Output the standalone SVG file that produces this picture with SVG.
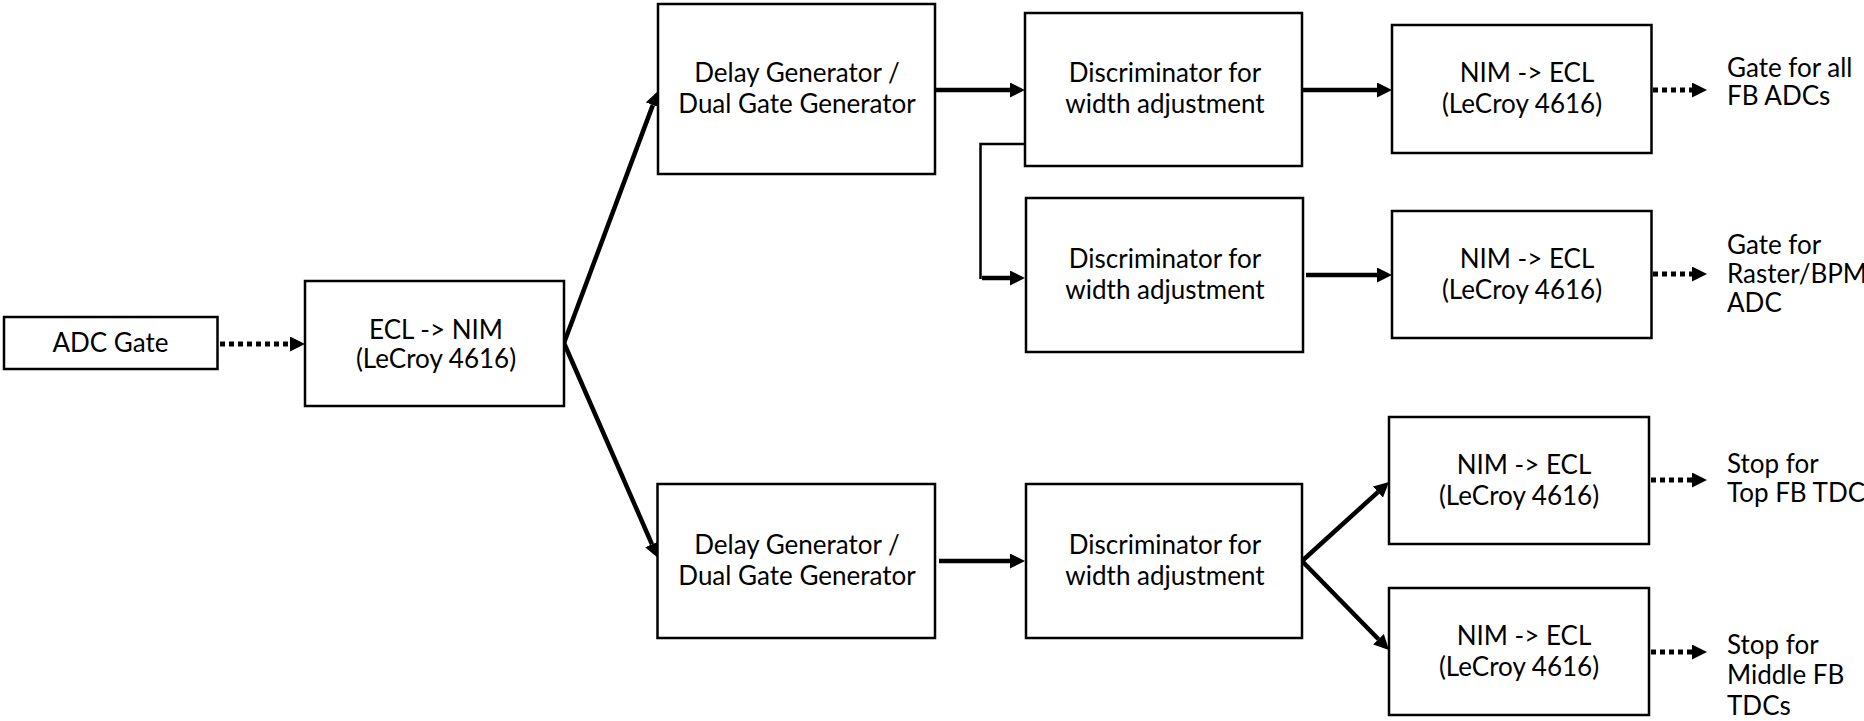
<svg xmlns="http://www.w3.org/2000/svg" width="1864" height="721" viewBox="0 0 1864 721">
  <style>
    .box { fill: #ffffff; stroke: #000000; stroke-width: 2.5; }
    .t { font-family: Lato, "Liberation Sans", Arial, sans-serif; font-size: 26px; fill: #000000; text-anchor: middle; }
    .lbl { font-family: Lato, "Liberation Sans", Arial, sans-serif; font-size: 26px; fill: #000000; }
    .solid { stroke: #000000; stroke-width: 4.5; fill: none; marker-end: url(#ah); }
    .dot { stroke: #000000; stroke-width: 5; fill: none; stroke-dasharray: 5 4; marker-end: url(#ah); }
    .thin { stroke: #000000; stroke-width: 2.5; fill: none; }
  </style>
  <defs>
    <marker id="ah" viewBox="0 0 15 15" refX="0" refY="7.5" markerWidth="15" markerHeight="15" markerUnits="userSpaceOnUse" orient="auto">
      <path d="M0,0 L15,7.5 L0,15 z" fill="#000000"/>
    </marker>
  </defs>
  <rect width="1864" height="721" fill="#ffffff"/>

  <g id="connectors">
    <line class="dot" x1="220" y1="344" x2="290" y2="344"/>
    <line class="solid" x1="564" y1="343" x2="652.8" y2="105.1"/>
    <line class="solid" x1="564" y1="343" x2="652" y2="544.3"/>
    <line class="solid" x1="935" y1="90" x2="1010" y2="90"/>
    <line class="solid" x1="1302" y1="90" x2="1377" y2="90"/>
    <path class="thin" d="M1025,144 H980.5 V279"/>
    <line class="solid" x1="982" y1="278" x2="1010" y2="278"/>
    <line class="solid" x1="1306" y1="275" x2="1377" y2="275"/>
    <line class="dot" x1="1653" y1="90" x2="1692" y2="90"/>
    <line class="dot" x1="1653" y1="274" x2="1692" y2="274"/>
    <line class="solid" x1="939" y1="561" x2="1010" y2="561"/>
    <line class="solid" x1="1302" y1="561" x2="1377.9" y2="492.1"/>
    <line class="solid" x1="1302" y1="561" x2="1378.5" y2="639.3"/>
    <line class="dot" x1="1651" y1="480" x2="1692" y2="480"/>
    <line class="dot" x1="1651" y1="652" x2="1692" y2="652"/>
  </g>

  <g id="adc-gate">
    <rect class="box" x="4" y="317" width="213.5" height="52"/>
    <text class="t" x="110.5" y="352">ADC Gate</text>
  </g>
  <g id="ecl-nim">
    <rect class="box" x="305" y="281" width="259" height="125"/>
    <text class="t" x="436" y="339">ECL -&gt; NIM</text>
    <text class="t" x="436" y="368">(LeCroy 4616)</text>
  </g>
  <g id="delay-top">
    <rect class="box" x="658" y="4" width="277" height="170"/>
    <text class="t" x="797" y="82">Delay Generator /</text>
    <text class="t" x="797" y="113">Dual Gate Generator</text>
  </g>
  <g id="disc-1">
    <rect class="box" x="1025" y="13" width="277" height="153"/>
    <text class="t" x="1165" y="82">Discriminator for</text>
    <text class="t" x="1165" y="113">width adjustment</text>
  </g>
  <g id="disc-2">
    <rect class="box" x="1026" y="198" width="277" height="154"/>
    <text class="t" x="1165" y="268">Discriminator for</text>
    <text class="t" x="1165" y="299">width adjustment</text>
  </g>
  <g id="nim-1">
    <rect class="box" x="1392" y="25" width="259.5" height="128"/>
    <text class="t" x="1527" y="82">NIM -&gt; ECL</text>
    <text class="t" x="1522" y="113">(LeCroy 4616)</text>
  </g>
  <g id="nim-2">
    <rect class="box" x="1392" y="211" width="259.5" height="127"/>
    <text class="t" x="1527" y="268">NIM -&gt; ECL</text>
    <text class="t" x="1522" y="299">(LeCroy 4616)</text>
  </g>
  <g id="delay-bottom">
    <rect class="box" x="657.5" y="484" width="277.5" height="154"/>
    <text class="t" x="797" y="554">Delay Generator /</text>
    <text class="t" x="797" y="585">Dual Gate Generator</text>
  </g>
  <g id="disc-3">
    <rect class="box" x="1026" y="484" width="276" height="154"/>
    <text class="t" x="1165" y="554">Discriminator for</text>
    <text class="t" x="1165" y="585">width adjustment</text>
  </g>
  <g id="nim-3">
    <rect class="box" x="1389" y="417" width="260" height="127"/>
    <text class="t" x="1524" y="474">NIM -&gt; ECL</text>
    <text class="t" x="1519" y="505">(LeCroy 4616)</text>
  </g>
  <g id="nim-4">
    <rect class="box" x="1389" y="588" width="260" height="127"/>
    <text class="t" x="1524" y="645">NIM -&gt; ECL</text>
    <text class="t" x="1519" y="676">(LeCroy 4616)</text>
  </g>

  <g id="label-fb-adcs">
    <text class="lbl" x="1727" y="76.5">Gate for all</text>
    <text class="lbl" x="1727" y="105">FB ADCs</text>
  </g>
  <g id="label-raster">
    <text class="lbl" x="1727" y="253.5">Gate for</text>
    <text class="lbl" x="1727" y="283">Raster/BPM</text>
    <text class="lbl" x="1727" y="312">ADC</text>
  </g>
  <g id="label-top-tdc">
    <text class="lbl" x="1727" y="473">Stop for</text>
    <text class="lbl" x="1727" y="502">Top FB TDCs</text>
  </g>
  <g id="label-middle-tdc">
    <text class="lbl" x="1727" y="653.5">Stop for</text>
    <text class="lbl" x="1727" y="684">Middle FB</text>
    <text class="lbl" x="1727" y="715">TDCs</text>
  </g>
</svg>
